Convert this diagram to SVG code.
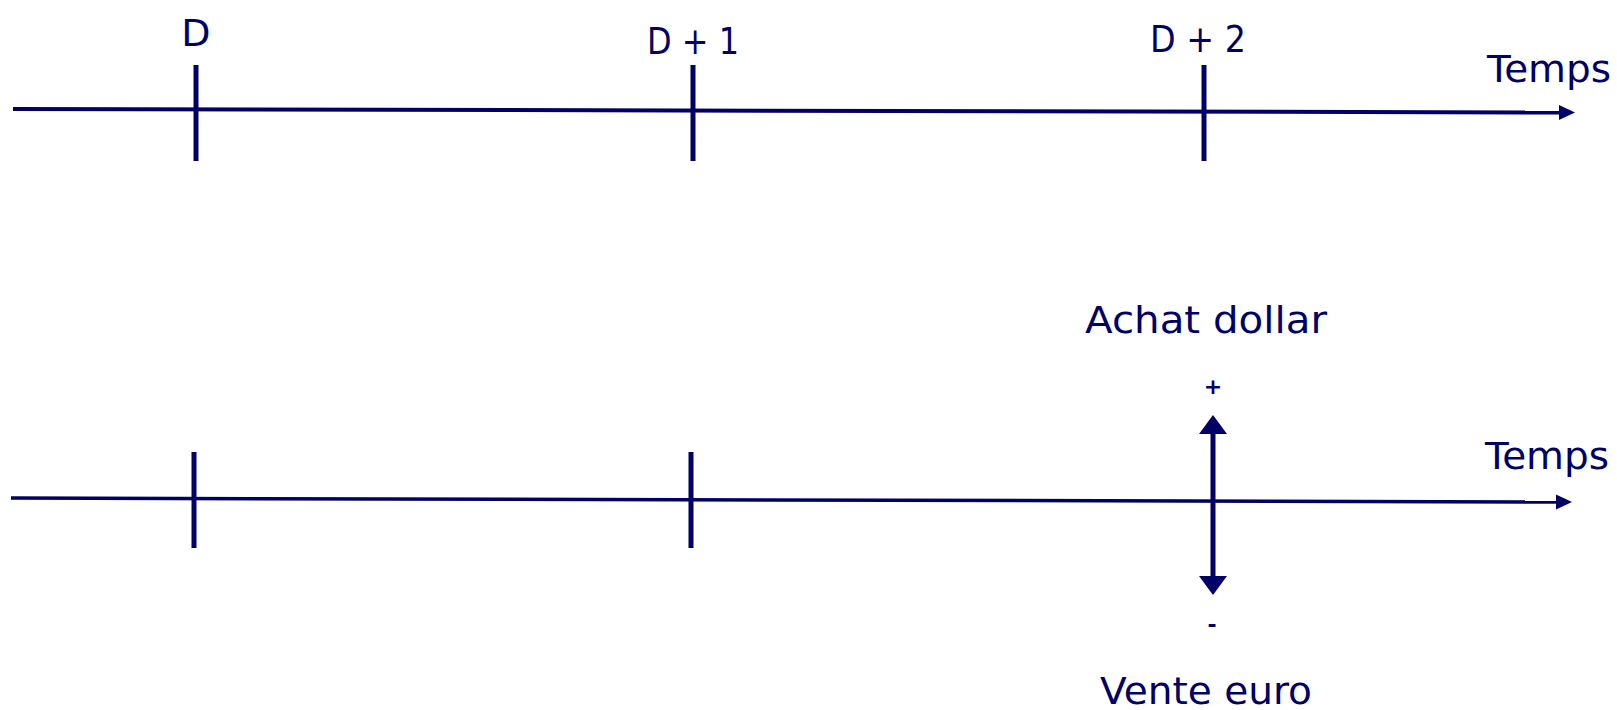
<svg xmlns="http://www.w3.org/2000/svg" width="1617" height="710" viewBox="0 0 1617 710">
<style>
.ax{stroke:#000066;stroke-width:4;fill:none}
.ax2{stroke:#000066;stroke-width:3.5;fill:none}
.tk{stroke:#000066;stroke-width:5;fill:none}
.lbl{font-family:"DejaVu Sans",sans-serif;font-size:38px;fill:#000066;text-anchor:middle}
.sm{font-family:"DejaVu Sans",sans-serif;font-size:22px;fill:#000066;text-anchor:middle;font-weight:bold}
</style>
<defs>
<marker id="ah" viewBox="0 0 16 16" refX="1" refY="8" markerWidth="16" markerHeight="16" markerUnits="userSpaceOnUse" orient="auto">
<path d="M0,0.5 L16,8 L0,15.5 Z" fill="#000066"/>
</marker>
<marker id="bh" viewBox="0 0 19 28" refX="1" refY="14" markerWidth="19" markerHeight="28" markerUnits="userSpaceOnUse" orient="auto">
<path d="M0,0 L19,14 L0,28 Z" fill="#000066"/>
</marker>
</defs>
<g id="connectors">
<line class="ax" x1="13" y1="109" x2="1560" y2="112.5" marker-end="url(#ah)"/>
<line class="ax2" x1="11" y1="498" x2="1557" y2="502" marker-end="url(#ah)"/>
<line class="tk" x1="1213" y1="500" x2="1213" y2="433" marker-end="url(#bh)"/>
<line class="tk" x1="1213" y1="500" x2="1213" y2="577" marker-end="url(#bh)"/>
</g>
<g id="tick-D"><line class="tk" x1="196" y1="65" x2="196" y2="161"/><text class="lbl" x="196" y="46">D</text></g>
<g id="tick-D1"><line class="tk" x1="693" y1="65" x2="693" y2="161"/><text class="lbl" x="693" y="54" textLength="92" lengthAdjust="spacingAndGlyphs">D + 1</text></g>
<g id="tick-D2"><line class="tk" x1="1204" y1="65" x2="1204" y2="161"/><text class="lbl" x="1198" y="52" textLength="96" lengthAdjust="spacingAndGlyphs">D + 2</text></g>
<g id="temps-top"><text class="lbl" x="1549" y="82" textLength="124" lengthAdjust="spacingAndGlyphs">Temps</text></g>
<g id="tick-b1"><line class="tk" x1="194" y1="452" x2="194" y2="548"/></g>
<g id="tick-b2"><line class="tk" x1="691" y1="452" x2="691" y2="548"/></g>
<g id="temps-bottom"><text class="lbl" x="1547" y="469" textLength="124" lengthAdjust="spacingAndGlyphs">Temps</text></g>
<g id="achat"><text class="lbl" x="1206" y="333" textLength="242" lengthAdjust="spacingAndGlyphs">Achat dollar</text><text class="sm" x="1213" y="394">+</text></g>
<g id="vente"><text class="sm" x="1212" y="632">-</text><text class="lbl" x="1206" y="704" textLength="212" lengthAdjust="spacingAndGlyphs">Vente euro</text></g>
</svg>
